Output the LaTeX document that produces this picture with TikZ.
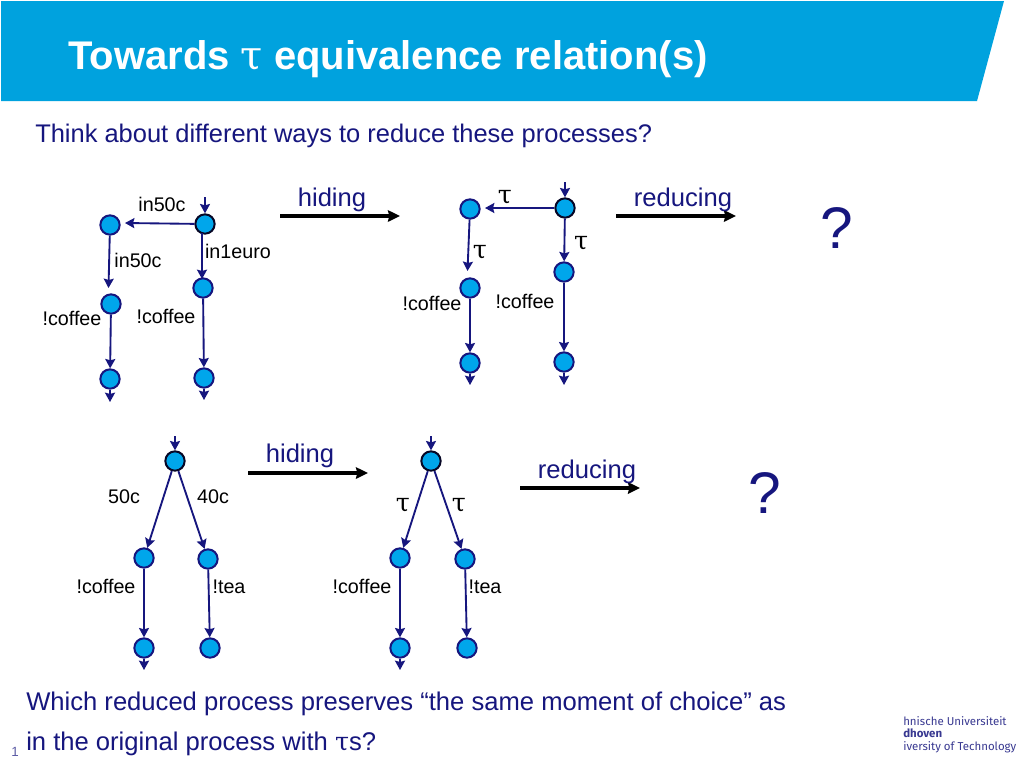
\documentclass[tikz,border=0pt]{standalone}
\usepackage{fontspec}
\setmainfont{Liberation Sans}
\newfontfamily\taufont{DejaVu Serif}
\newfontfamily\logofont{Fira Sans}
\usetikzlibrary{arrows.meta}
\definecolor{navy}{HTML}{16167E}
\definecolor{tuecyan}{HTML}{00A2DE}
\definecolor{stateblue}{HTML}{00A6EB}
\newcommand{\fs}[1]{\fontsize{#1}{#1}\selectfont}
\tikzset{
  x=0.75pt,y=-0.75pt,
  st/.style={circle,draw=navy,fill=stateblue,line width=1.5pt,minimum size=14.5pt,inner sep=0pt},
  init/.style={st,draw=black!70!navy},
  trans/.style={draw=navy,line width=1.4pt,-{Stealth[length=7pt,width=7.5pt,inset=1pt]}},
  bigarrow/.style={draw=black,line width=2.4pt,-{Stealth[length=9pt,width=8.5pt,inset=1pt]}},
  lab/.style={inner sep=0pt,text=black,font=\fs{14.8}},
  blue/.style={inner sep=0pt,text=navy,font=\fs{19.2}},
  body/.style={inner sep=0pt,anchor=base west,text=navy,font=\fs{19.1}},
  foot/.style={inner sep=0pt,anchor=base west,text=navy,font=\fs{19.2}},
  taul/.style={inner sep=0pt,text=black,font=\taufont\fs{19}},
  logo/.style={inner sep=0pt,anchor=base west,text=navy!85!white,font=\logofont\fs{8.6}},
}
\begin{document}
\begin{tikzpicture}
\useasboundingbox (0,0) rectangle (1024,768);
\fill[white] (0,0) rectangle (1024,768);
\fill[tuecyan] (1,1) -- (1004,1) -- (977,101) -- (1,101) -- cycle;
\node[inner sep=0pt,anchor=base west,text=white,font=\bfseries\fs{30}] (title) at (68,69) {Towards {\taufont\mdseries\fs{30}τ} equivalence relation(s)};
\node[body] (sub) at (35,142) {Think about different ways to reduce these processes?};

% diagram 1
\node[init] (a0) at (205,224) {};
\node[st] (a1) at (110,225) {};
\node[st] (a2) at (111,304) {};
\node[st] (a3) at (110,379) {};
\node[st] (b1) at (203,288) {};
\node[st] (b2) at (204,378) {};
\coordinate (a0in) at (205,197);
\coordinate (a1t) at (125,223);
\coordinate (a3out) at (110,402);
\coordinate (b2out) at (204,400);
\coordinate (a0s) at (202,233);
\coordinate (b1t) at (202,279);
\coordinate (a2t) at (108.5,288);
\draw[trans] (a0in) -- (a0);
\draw[trans] (a0) -- (a1t);
\draw[trans] (a1) -- (a2t);
\draw[trans] (a0s) -- (b1t);
\draw[trans] (a2) -- (a3);
\draw[trans] (b1) -- (b2);
\draw[trans] (a3) -- (a3out);
\draw[trans] (b2) -- (b2out);
\node[lab] (l1) at (162,204) {in50c};
\node[lab] (l2) at (138,260) {in50c};
\node[lab] (l3) at (238,251) {in1euro};
\node[lab] (l4) at (72,318) {!coffee};
\node[lab] (l5) at (166,316) {!coffee};

% hiding / reducing top
\coordinate (h1s) at (280,216); \coordinate (h1e) at (400,216);
\coordinate (r1s) at (616,216); \coordinate (r1e) at (736,216);
\draw[bigarrow] (h1s) -- (h1e);
\draw[bigarrow] (r1s) -- (r1e);
\node[blue] (hl1) at (332,200) {hiding};
\node[blue] (rl1) at (683,200) {reducing};
\node[inner sep=0pt,text=navy,font=\fs{44}] (q1) at (837,228) {?};

% diagram 2
\node[init] (c0) at (565,208) {};
\node[st] (c1) at (470,209) {};
\node[st] (c2) at (470,288) {};
\node[st] (c3) at (470,363) {};
\node[st] (d1) at (564,272) {};
\node[st] (d2) at (564,362) {};
\coordinate (c0in) at (565,182);
\coordinate (c1t) at (485,208);
\coordinate (c3out) at (470,385);
\coordinate (d2out) at (564,385);
\coordinate (c2t) at (467.5,271);
\draw[trans] (c0in) -- (c0);
\draw[trans] (c0) -- (c1t);
\draw[trans] (c1) -- (c2t);
\draw[trans] (c0) -- (d1);
\draw[trans] (c2) -- (c3);
\draw[trans] (d1) -- (d2);
\draw[trans] (c3) -- (c3out);
\draw[trans] (d2) -- (d2out);
\node[taul] (t1) at (505,197) {τ};
\node[taul] (t2) at (480,252) {τ};
\node[taul] (t3) at (581,243) {τ};
\node[lab] (l6) at (432,303) {!coffee};
\node[lab] (l7) at (525,301) {!coffee};

% diagram 3
\node[init] (e0) at (175,461) {};
\node[st] (e1) at (144,558) {};
\node[st] (e2) at (208,559) {};
\node[st] (e3) at (144,648) {};
\node[st] (e4) at (210,648) {};
\coordinate (e0in) at (175,436);
\coordinate (e3out) at (144,670);
\draw[trans] (e0in) -- (e0);
\draw[trans] (e0) -- (e1);
\draw[trans] (e0) -- (e2);
\draw[trans] (e1) -- (e3);
\draw[trans] (e2) -- (e4);
\draw[trans] (e3) -- (e3out);
\node[lab] (l8) at (124,497) {50c};
\node[lab] (l9) at (213,497) {40c};
\node[lab] (l10) at (106,586) {!coffee};
\node[lab] (l11) at (229,587) {!tea};

% hiding / reducing bottom
\coordinate (h2s) at (248,473); \coordinate (h2e) at (368,473);
\coordinate (r2s) at (520,488); \coordinate (r2e) at (640,488);
\draw[bigarrow] (h2s) -- (h2e);
\draw[bigarrow] (r2s) -- (r2e);
\node[blue] (hl2) at (300,456) {hiding};
\node[blue] (rl2) at (587,472) {reducing};
\node[inner sep=0pt,text=navy,font=\fs{44}] (q2) at (765,493) {?};

% diagram 4
\node[init] (f0) at (431,461) {};
\node[st] (f1) at (400,558) {};
\node[st] (f2) at (465,559) {};
\node[st] (f3) at (400,648) {};
\node[st] (f4) at (467,648) {};
\coordinate (f0in) at (431,436);
\coordinate (f3out) at (400,670);
\draw[trans] (f0in) -- (f0);
\draw[trans] (f0) -- (f1);
\draw[trans] (f0) -- (f2);
\draw[trans] (f1) -- (f3);
\draw[trans] (f2) -- (f4);
\draw[trans] (f3) -- (f3out);
\node[taul] (t4) at (403,505) {τ};
\node[taul] (t5) at (459,505) {τ};
\node[lab] (l12) at (362,586) {!coffee};
\node[lab] (l13) at (485,587) {!tea};

% footer
\node[foot] (b1t) at (26,710) {Which reduced process preserves “the same moment of choice” as};
\node[foot] (b2t) at (26,750) {in the original process with {\taufont\fs{19}τ}s?};
\node[inner sep=0pt,anchor=base west,text=navy!70!white,font=\fs{10}] (pg) at (11,756) {1};
\node[logo] (lg1) at (903,725) {hnische Universiteit};
\node[logo,font=\logofont\bfseries\fs{8.6}] (lg2) at (903,737) {dhoven};
\node[logo] (lg3) at (903,750) {iversity of Technology};
\end{tikzpicture}
\end{document}
